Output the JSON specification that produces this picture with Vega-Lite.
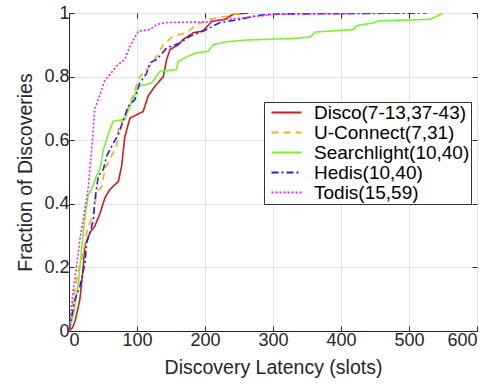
{
  "$schema": "https://vega.github.io/schema/vega-lite/v6.json",
  "width": 408,
  "height": 318,
  "autosize": {"type": "none"},
  "padding": {"left": 69, "top": 13, "right": 27, "bottom": 53},
  "background": "white",
  "config": {
    "font": "Liberation Sans",
    "view": {"stroke": "#262626", "strokeWidth": 1},
    "axis": {
      "domainColor": "#262626",
      "tickColor": "#262626",
      "labelColor": "#262626",
      "titleColor": "#262626",
      "labelFontSize": 18,
      "titleFontSize": 19.5,
      "titleFontWeight": "normal",
      "gridColor": "#e3e3e3",
      "gridWidth": 1,
      "tickSize": -5,
      "labelPadding": 5
    },
    "legend": {
      "labelFontSize": 19,
      "labelColor": "#000000",
      "symbolType": "M-3,0H3",
      "symbolStrokeWidth": 2,
      "symbolSize": 100,
      "symbolOffset": 12,
      "strokeColor": "#333333",
      "fillColor": "white",
      "padding": 1,
      "rowPadding": -3,
      "labelOffset": 18,
      "orient": "none",
      "legendX": 195,
      "legendY": 89
    }
  },
  "datasets": {
    "cdf": [
      {"s": "Disco(7-13,37-43)", "x": 0, "y": 0},
      {"s": "Disco(7-13,37-43)", "x": 5, "y": 0.01},
      {"s": "Disco(7-13,37-43)", "x": 8.8, "y": 0.03},
      {"s": "Disco(7-13,37-43)", "x": 12, "y": 0.06},
      {"s": "Disco(7-13,37-43)", "x": 16, "y": 0.1},
      {"s": "Disco(7-13,37-43)", "x": 20, "y": 0.18},
      {"s": "Disco(7-13,37-43)", "x": 23.5, "y": 0.27},
      {"s": "Disco(7-13,37-43)", "x": 31, "y": 0.31},
      {"s": "Disco(7-13,37-43)", "x": 38, "y": 0.33},
      {"s": "Disco(7-13,37-43)", "x": 45.6, "y": 0.37},
      {"s": "Disco(7-13,37-43)", "x": 53, "y": 0.42},
      {"s": "Disco(7-13,37-43)", "x": 60, "y": 0.445},
      {"s": "Disco(7-13,37-43)", "x": 72.5, "y": 0.47},
      {"s": "Disco(7-13,37-43)", "x": 77.5, "y": 0.52},
      {"s": "Disco(7-13,37-43)", "x": 82, "y": 0.61},
      {"s": "Disco(7-13,37-43)", "x": 89.7, "y": 0.67},
      {"s": "Disco(7-13,37-43)", "x": 99.5, "y": 0.68},
      {"s": "Disco(7-13,37-43)", "x": 109, "y": 0.69},
      {"s": "Disco(7-13,37-43)", "x": 116.6, "y": 0.74},
      {"s": "Disco(7-13,37-43)", "x": 126.5, "y": 0.77},
      {"s": "Disco(7-13,37-43)", "x": 138.7, "y": 0.8},
      {"s": "Disco(7-13,37-43)", "x": 143.6, "y": 0.854},
      {"s": "Disco(7-13,37-43)", "x": 148.5, "y": 0.885},
      {"s": "Disco(7-13,37-43)", "x": 160.7, "y": 0.9},
      {"s": "Disco(7-13,37-43)", "x": 168, "y": 0.917},
      {"s": "Disco(7-13,37-43)", "x": 183, "y": 0.938},
      {"s": "Disco(7-13,37-43)", "x": 197, "y": 0.943},
      {"s": "Disco(7-13,37-43)", "x": 210, "y": 0.974},
      {"s": "Disco(7-13,37-43)", "x": 229, "y": 0.98},
      {"s": "Disco(7-13,37-43)", "x": 241.6, "y": 0.996},
      {"s": "Disco(7-13,37-43)", "x": 264, "y": 1.0},

      {"s": "U-Connect(7,31)", "x": 0, "y": 0},
      {"s": "U-Connect(7,31)", "x": 6.4, "y": 0.1},
      {"s": "U-Connect(7,31)", "x": 13.7, "y": 0.19},
      {"s": "U-Connect(7,31)", "x": 21, "y": 0.246},
      {"s": "U-Connect(7,31)", "x": 26, "y": 0.31},
      {"s": "U-Connect(7,31)", "x": 35.8, "y": 0.37},
      {"s": "U-Connect(7,31)", "x": 40.7, "y": 0.435},
      {"s": "U-Connect(7,31)", "x": 48, "y": 0.455},
      {"s": "U-Connect(7,31)", "x": 53, "y": 0.51},
      {"s": "U-Connect(7,31)", "x": 60, "y": 0.54},
      {"s": "U-Connect(7,31)", "x": 70, "y": 0.58},
      {"s": "U-Connect(7,31)", "x": 72.5, "y": 0.634},
      {"s": "U-Connect(7,31)", "x": 82, "y": 0.675},
      {"s": "U-Connect(7,31)", "x": 92, "y": 0.728},
      {"s": "U-Connect(7,31)", "x": 104, "y": 0.8},
      {"s": "U-Connect(7,31)", "x": 119, "y": 0.833},
      {"s": "U-Connect(7,31)", "x": 129, "y": 0.864},
      {"s": "U-Connect(7,31)", "x": 138.7, "y": 0.9},
      {"s": "U-Connect(7,31)", "x": 153, "y": 0.927},
      {"s": "U-Connect(7,31)", "x": 173, "y": 0.938},
      {"s": "U-Connect(7,31)", "x": 188, "y": 0.964},
      {"s": "U-Connect(7,31)", "x": 207, "y": 0.98},
      {"s": "U-Connect(7,31)", "x": 232, "y": 0.99},
      {"s": "U-Connect(7,31)", "x": 251.5, "y": 1.0},

      {"s": "Searchlight(10,40)", "x": 0, "y": 0},
      {"s": "Searchlight(10,40)", "x": 6.4, "y": 0.047},
      {"s": "Searchlight(10,40)", "x": 13.7, "y": 0.15},
      {"s": "Searchlight(10,40)", "x": 21, "y": 0.31},
      {"s": "Searchlight(10,40)", "x": 23.5, "y": 0.36},
      {"s": "Searchlight(10,40)", "x": 28, "y": 0.424},
      {"s": "Searchlight(10,40)", "x": 35.8, "y": 0.46},
      {"s": "Searchlight(10,40)", "x": 40.7, "y": 0.49},
      {"s": "Searchlight(10,40)", "x": 45.6, "y": 0.51},
      {"s": "Searchlight(10,40)", "x": 50.5, "y": 0.57},
      {"s": "Searchlight(10,40)", "x": 57.8, "y": 0.62},
      {"s": "Searchlight(10,40)", "x": 65, "y": 0.66},
      {"s": "Searchlight(10,40)", "x": 82, "y": 0.665},
      {"s": "Searchlight(10,40)", "x": 89.7, "y": 0.707},
      {"s": "Searchlight(10,40)", "x": 102, "y": 0.77},
      {"s": "Searchlight(10,40)", "x": 121.6, "y": 0.78},
      {"s": "Searchlight(10,40)", "x": 133.8, "y": 0.817},
      {"s": "Searchlight(10,40)", "x": 158, "y": 0.822},
      {"s": "Searchlight(10,40)", "x": 160.7, "y": 0.848},
      {"s": "Searchlight(10,40)", "x": 175, "y": 0.864},
      {"s": "Searchlight(10,40)", "x": 188, "y": 0.875},
      {"s": "Searchlight(10,40)", "x": 205, "y": 0.88},
      {"s": "Searchlight(10,40)", "x": 212, "y": 0.9},
      {"s": "Searchlight(10,40)", "x": 232, "y": 0.91},
      {"s": "Searchlight(10,40)", "x": 261, "y": 0.915},
      {"s": "Searchlight(10,40)", "x": 330, "y": 0.92},
      {"s": "Searchlight(10,40)", "x": 355, "y": 0.925},
      {"s": "Searchlight(10,40)", "x": 362, "y": 0.94},
      {"s": "Searchlight(10,40)", "x": 418, "y": 0.948},
      {"s": "Searchlight(10,40)", "x": 423, "y": 0.96},
      {"s": "Searchlight(10,40)", "x": 450, "y": 0.97},
      {"s": "Searchlight(10,40)", "x": 453, "y": 0.975},
      {"s": "Searchlight(10,40)", "x": 531, "y": 0.98},
      {"s": "Searchlight(10,40)", "x": 541, "y": 0.99},
      {"s": "Searchlight(10,40)", "x": 549.5, "y": 1.0},

      {"s": "Hedis(10,40)", "x": 0, "y": 0},
      {"s": "Hedis(10,40)", "x": 8.8, "y": 0.1},
      {"s": "Hedis(10,40)", "x": 16, "y": 0.14},
      {"s": "Hedis(10,40)", "x": 23.5, "y": 0.214},
      {"s": "Hedis(10,40)", "x": 26, "y": 0.278},
      {"s": "Hedis(10,40)", "x": 31, "y": 0.31},
      {"s": "Hedis(10,40)", "x": 35.8, "y": 0.35},
      {"s": "Hedis(10,40)", "x": 38, "y": 0.41},
      {"s": "Hedis(10,40)", "x": 43, "y": 0.487},
      {"s": "Hedis(10,40)", "x": 50.5, "y": 0.508},
      {"s": "Hedis(10,40)", "x": 55.4, "y": 0.55},
      {"s": "Hedis(10,40)", "x": 65, "y": 0.59},
      {"s": "Hedis(10,40)", "x": 72.5, "y": 0.618},
      {"s": "Hedis(10,40)", "x": 82, "y": 0.675},
      {"s": "Hedis(10,40)", "x": 87, "y": 0.707},
      {"s": "Hedis(10,40)", "x": 97, "y": 0.728},
      {"s": "Hedis(10,40)", "x": 104, "y": 0.78},
      {"s": "Hedis(10,40)", "x": 114, "y": 0.81},
      {"s": "Hedis(10,40)", "x": 119, "y": 0.843},
      {"s": "Hedis(10,40)", "x": 129, "y": 0.854},
      {"s": "Hedis(10,40)", "x": 143.6, "y": 0.89},
      {"s": "Hedis(10,40)", "x": 163, "y": 0.906},
      {"s": "Hedis(10,40)", "x": 178, "y": 0.927},
      {"s": "Hedis(10,40)", "x": 202.5, "y": 0.948},
      {"s": "Hedis(10,40)", "x": 222, "y": 0.97},
      {"s": "Hedis(10,40)", "x": 251.5, "y": 0.98},
      {"s": "Hedis(10,40)", "x": 271, "y": 0.99},
      {"s": "Hedis(10,40)", "x": 290.7, "y": 0.995},
      {"s": "Hedis(10,40)", "x": 310, "y": 0.997},
      {"s": "Hedis(10,40)", "x": 400, "y": 0.998},
      {"s": "Hedis(10,40)", "x": 526, "y": 1.0},

      {"s": "Todis(15,59)", "x": 0, "y": 0},
      {"s": "Todis(15,59)", "x": 6.4, "y": 0.13},
      {"s": "Todis(15,59)", "x": 11.3, "y": 0.204},
      {"s": "Todis(15,59)", "x": 16, "y": 0.288},
      {"s": "Todis(15,59)", "x": 21, "y": 0.35},
      {"s": "Todis(15,59)", "x": 28, "y": 0.445},
      {"s": "Todis(15,59)", "x": 33.3, "y": 0.57},
      {"s": "Todis(15,59)", "x": 38, "y": 0.7},
      {"s": "Todis(15,59)", "x": 43, "y": 0.728},
      {"s": "Todis(15,59)", "x": 53, "y": 0.79},
      {"s": "Todis(15,59)", "x": 57.8, "y": 0.8},
      {"s": "Todis(15,59)", "x": 70, "y": 0.833},
      {"s": "Todis(15,59)", "x": 82, "y": 0.854},
      {"s": "Todis(15,59)", "x": 89.7, "y": 0.896},
      {"s": "Todis(15,59)", "x": 102, "y": 0.943},
      {"s": "Todis(15,59)", "x": 119, "y": 0.948},
      {"s": "Todis(15,59)", "x": 129, "y": 0.964},
      {"s": "Todis(15,59)", "x": 143.6, "y": 0.97},
      {"s": "Todis(15,59)", "x": 202.5, "y": 0.972},
      {"s": "Todis(15,59)", "x": 232, "y": 0.98},
      {"s": "Todis(15,59)", "x": 281, "y": 0.99},
      {"s": "Todis(15,59)", "x": 300, "y": 0.996},
      {"s": "Todis(15,59)", "x": 400, "y": 0.998},
      {"s": "Todis(15,59)", "x": 490, "y": 1.0}
    ]
  },
  "data": {"name": "cdf"},
  "layer": [
    {
      "mark": {"type": "line", "strokeWidth": 1.6, "clip": true},
      "encoding": {
        "x": {
          "field": "x", "type": "quantitative",
          "scale": {"domain": [0, 600], "nice": false},
          "axis": {"values": [0, 100, 200, 300, 400, 500, 600], "title": "Discovery Latency (slots)", "titlePadding": 9}
        },
        "y": {
          "field": "y", "type": "quantitative",
          "scale": {"domain": [0, 1], "nice": false},
          "axis": {"values": [0, 0.2, 0.4, 0.6, 0.8, 1], "format": "~g", "title": "Fraction of Discoveries", "titlePadding": 8}
        },
        "color": {
          "field": "s", "type": "nominal",
          "scale": {
            "domain": ["Disco(7-13,37-43)", "U-Connect(7,31)", "Searchlight(10,40)", "Hedis(10,40)", "Todis(15,59)"],
            "range": ["#d01c1c", "#edb120", "#77f52e", "#2a1ef0", "#ee22ee"]
          },
          "legend": {"title": null}
        },
        "strokeDash": {
          "field": "s", "type": "nominal",
          "scale": {
            "domain": ["Disco(7-13,37-43)", "U-Connect(7,31)", "Searchlight(10,40)", "Hedis(10,40)", "Todis(15,59)"],
            "range": [[1, 0], [7, 5], [1, 0], [7, 3, 2, 3], [2, 2]]
          },
          "legend": {"title": null}
        }
      }
    },
    {
      "mark": {"type": "line", "opacity": 0},
      "encoding": {
        "x": {
          "field": "x", "type": "quantitative",
          "axis": {"orient": "top", "values": [0, 100, 200, 300, 400, 500, 600], "labels": false, "grid": false, "domain": false, "title": null}
        },
        "y": {
          "field": "y", "type": "quantitative",
          "axis": {"orient": "right", "values": [0, 0.2, 0.4, 0.6, 0.8, 1], "labels": false, "grid": false, "domain": false, "title": null}
        },
        "detail": {"field": "s"}
      }
    }
  ],
  "resolve": {"axis": {"x": "independent", "y": "independent"}}
}
